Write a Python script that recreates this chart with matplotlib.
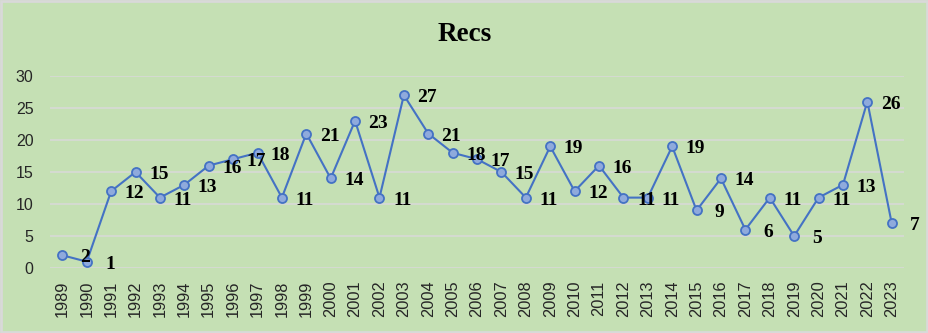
import matplotlib.pyplot as plt
import numpy as np

# data
years = [str(y) for y in range(1989, 2024)]
recs = [2, 1, 12, 15, 11, 13, 16, 17, 18, 11, 21, 14, 23, 11, 27, 21, 18, 17,
        15, 11, 19, 12, 16, 11, 11, 19, 9, 14, 6, 11, 5, 11, 13, 26, 7]

bg = '#C5E0B4'
line_col = '#4472C4'

fig = plt.figure(figsize=(9.29, 3.33), dpi=100, facecolor=bg)
ax = fig.add_axes([0.054, 0.195, 0.919, 0.577])
ax.set_facecolor(bg)

x = np.arange(len(years))
ax.plot(x, recs, color=line_col, lw=1.5, marker='o', ms=6.5,
        mfc='#8FAADC', mec=line_col, mew=1.3, zorder=3)

# labels sit about one category to the right of each point
for i, v in enumerate(recs):
    ax.text(i + 0.95, v - 0.4, str(v), ha='center', va='center',
            family='Liberation Serif', fontweight='bold', fontsize=14,
            color='black', zorder=4)

ax.set_xlim(-0.5, len(years) - 0.5)
ax.set_ylim(0, 30)
ax.set_yticks([0, 5, 10, 15, 20, 25, 30])
ax.set_xticks(x)
ax.set_xticklabels(years, rotation=90, family='Liberation Sans', fontsize=11.8)
ax.set_yticklabels([str(t) for t in [0, 5, 10, 15, 20, 25, 30]],
                   family='Liberation Sans', fontsize=11.5)
ax.tick_params(axis='both', length=0, colors='#262626')
ax.tick_params(axis='y', pad=12)
ax.tick_params(axis='x', pad=9)
ax.grid(axis='y', color='#D9D9D9', lw=1.1)
ax.set_axisbelow(True)
for s in ax.spines.values():
    s.set_visible(False)

fig.text(0.5, 0.895, 'Recs', ha='center', va='center',
         family='Liberation Serif', fontweight='bold', fontsize=19.5)

# light gray frame around the chart
fig.patches.append(plt.Rectangle((0.001, 0.002), 0.997, 0.995, transform=fig.transFigure,
                                 fill=False, ec='#D9D9D9', lw=2))

fig.savefig('out.png', dpi=100, facecolor=bg)
